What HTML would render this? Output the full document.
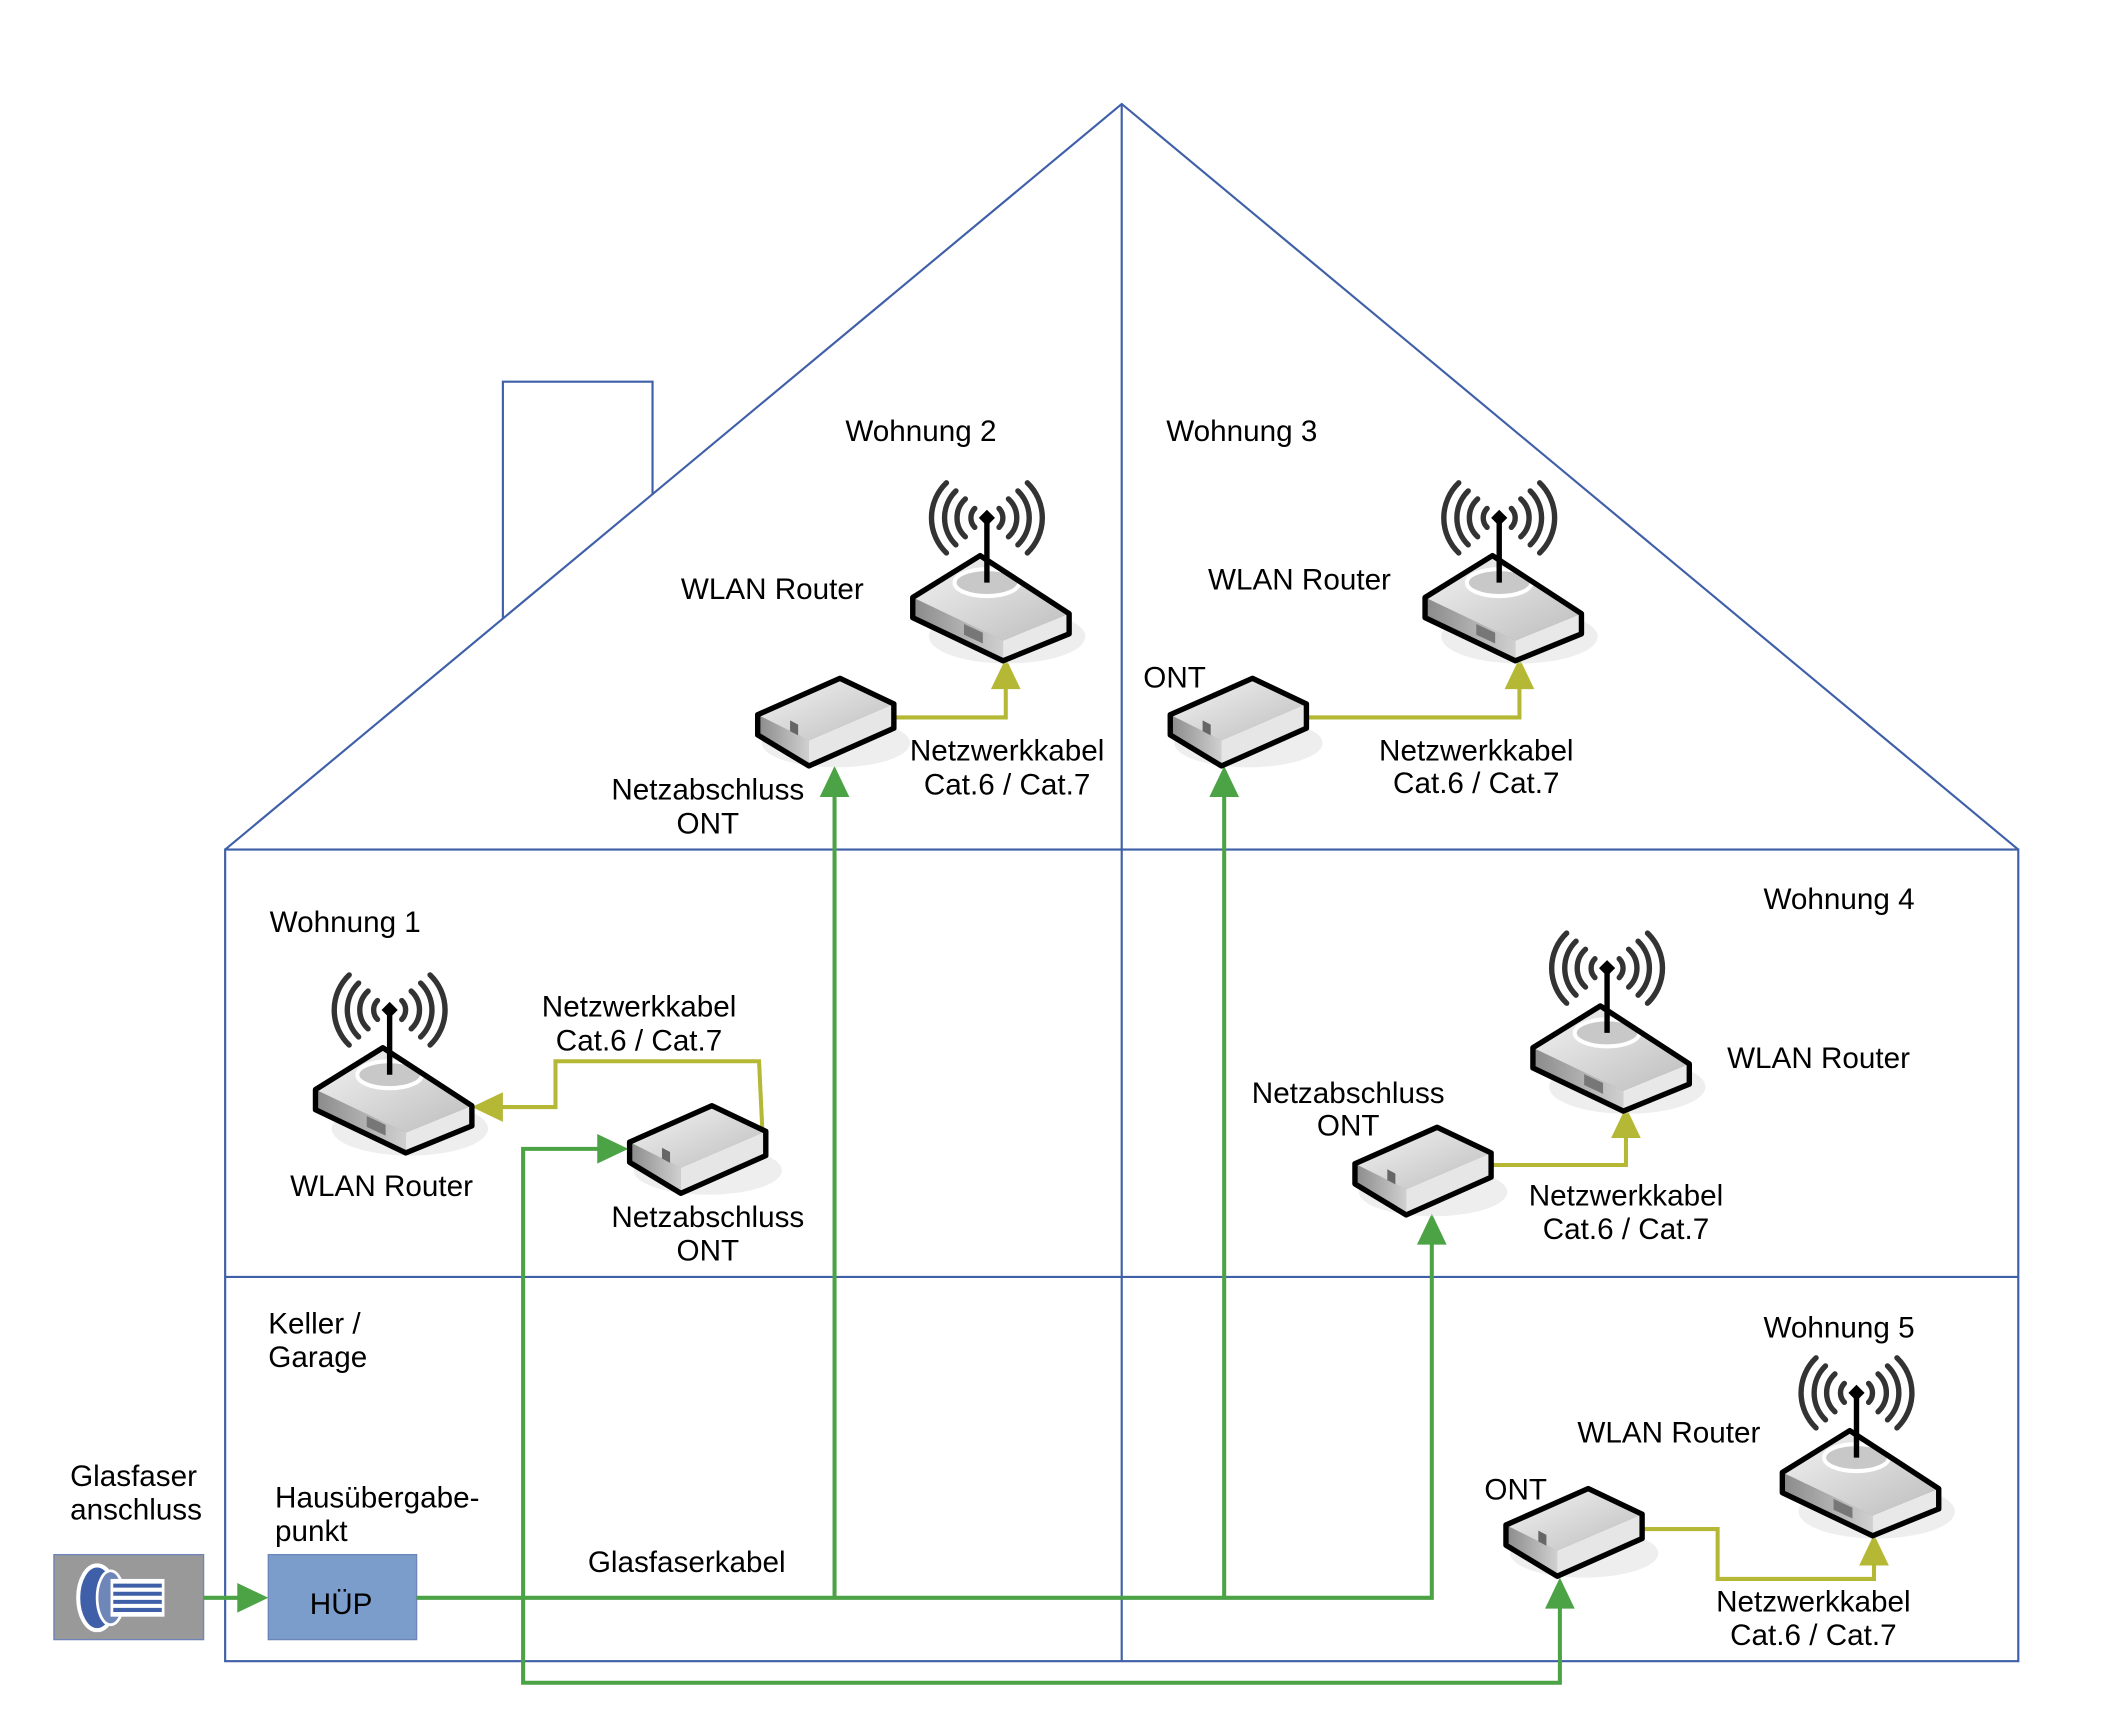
<!DOCTYPE html>
<html><head><meta charset="utf-8"><style>html,body{margin:0;padding:0;background:#fff}svg{display:block}</style></head><body>
<svg width="2114" height="1722" viewBox="0 0 1568 1277" xmlns="http://www.w3.org/2000/svg" font-family="Liberation Sans, Arial, sans-serif" font-size="22" fill="#000">
<defs>
<linearGradient id="gt" x1="0" y1="0" x2="1" y2="1"><stop offset="0" stop-color="#f4f4f4"/><stop offset="1" stop-color="#bdbdbd"/></linearGradient>
<linearGradient id="gs" x1="0" y1="0" x2="1" y2="0"><stop offset="0" stop-color="#8a8a8a"/><stop offset="1" stop-color="#d0d0d0"/></linearGradient>
<g id="ont">
<ellipse cx="8" cy="16" rx="55" ry="18" fill="#ddd" opacity="0.5"/>
<polygon points="-50,-5 11,-32 51,-13 51,5 -12,33 -50,10" fill="#9a9a9a"/>
<polygon points="-50,-5 -12,14 -12,33 -50,10" fill="url(#gs)"/>
<polygon points="-12,14 51,-13 51,5 -12,33" fill="#e6e6e6"/>
<polygon points="-50,-5 11,-32 51,-13 -12,14" fill="url(#gt)"/>
<polygon points="-50,-5 11,-32 51,-13 51,5 -12,33 -50,10" fill="none" stroke="#000" stroke-width="4" stroke-linejoin="round"/>
<rect x="-26" y="13" width="6" height="8" fill="#666" transform="skewY(28)"/>
</g>
<g id="router">
<ellipse cx="12" cy="22" rx="58" ry="20" fill="#ddd" opacity="0.5"/>
<polygon points="-58,-7 -8,-38 58,5 58,20 9,40 -58,8" fill="#999"/>
<polygon points="-58,-7 9,25 9,40 -58,8" fill="url(#gs)"/>
<polygon points="9,25 58,5 58,20 9,40" fill="#e8e8e8"/>
<polygon points="-58,-7 -8,-38 58,5 9,25" fill="url(#gt)"/>
<ellipse cx="-3" cy="-18" rx="24" ry="10" fill="#c8c8c8" stroke="#fff" stroke-width="3"/>
<rect x="-20" y="22" width="14" height="8" fill="#777" transform="skewY(25)"/>
<polygon points="-58,-7 -8,-38 58,5 58,20 9,40 -58,8" fill="none" stroke="#000" stroke-width="4" stroke-linejoin="round"/>
<line x1="-3" y1="-18" x2="-3" y2="-66" stroke="#000" stroke-width="4"/>
<polygon points="-3,-72 3,-66 -3,-60 -9,-66" fill="#000"/>
<g fill="none" stroke="#333" stroke-width="4" stroke-linecap="round">
<path d="M-12,-73 A10,10 0 0 0 -12,-59 M6,-73 A10,10 0 0 1 6,-59"/>
<path d="M-19,-80 A19,19 0 0 0 -19,-52 M13,-80 A19,19 0 0 1 13,-52"/>
<path d="M-26,-86 A28,28 0 0 0 -26,-46 M20,-86 A28,28 0 0 1 20,-46"/>
<path d="M-33,-92 A36,36 0 0 0 -33,-40 M27,-92 A36,36 0 0 1 27,-40"/>
</g>
</g>
</defs>
<g fill="none" stroke="#3f60a8" stroke-width="1.6">
<polyline points="167,630 832,77 1497,630"/>
<rect x="167" y="630" width="1330" height="602"/>
<line x1="167" y1="947" x2="1497" y2="947"/>
<line x1="832" y1="77" x2="832" y2="1232"/>
<polyline points="373,459 373,283 484,283 484,367"/>
</g>
<rect x="40" y="1153" width="111" height="63" fill="#999" stroke="#6d85b8" stroke-width="1"/>
<g transform="translate(88,1185)">
<ellipse cx="-16" cy="0" rx="14" ry="24" fill="#3f60a8" stroke="#fff" stroke-width="3"/>
<ellipse cx="-6" cy="0" rx="10" ry="20" fill="#6f86b8" stroke="#fff" stroke-width="2"/>
<rect x="-6" y="-14" width="40" height="28" fill="#fff"/>
<g stroke="#3f60a8" stroke-width="3"><line x1="-4" y1="-9" x2="32" y2="-9"/><line x1="-4" y1="-3" x2="32" y2="-3"/><line x1="-4" y1="3" x2="32" y2="3"/><line x1="-4" y1="9" x2="32" y2="9"/></g>
</g>
<rect x="199" y="1153" width="110" height="63" fill="#7b9dcb" stroke="#6d85b8" stroke-width="1"/>
<text x="253" y="1197" text-anchor="middle">HÜP</text>
<g fill="none" stroke="#4ca345" stroke-width="3">
<line x1="151" y1="1185" x2="178" y2="1185"/>
<polyline points="309,1185 1062,1185 1062,920"/>
<line x1="619" y1="1185" x2="619" y2="588"/>
<line x1="908" y1="1185" x2="908" y2="588"/>
<polyline points="446,852 388,852 388,1248 1157,1248 1157,1190"/>
</g>
<g fill="#4ca345">
<polygon points="199,1185 176,1174 176,1196"/>
<polygon points="619,568 608,591 630,591"/>
<polygon points="908,568 897,591 919,591"/>
<polygon points="1062,900 1051,923 1073,923"/>
<polygon points="1157,1170 1146,1193 1168,1193"/>
<polygon points="466,852 443,841 443,863"/>
</g>
<g fill="none" stroke="#b5b834" stroke-width="3">
<polyline points="663,532 746,532 746,508"/>
<polyline points="968,532 1127,532 1127,508"/>
<polyline points="566,850 563,787 412,787 412,821 370,821"/>
<polyline points="1105,864 1206,864 1206,841"/>
<polyline points="1217,1134 1274,1134 1274,1171 1390,1171 1390,1158"/>
</g>
<g fill="#b5b834">
<polygon points="746,488 735,511 757,511"/>
<polygon points="1127,488 1116,511 1138,511"/>
<polygon points="350,821 373,810 373,832"/>
<polygon points="1206,821 1195,844 1217,844"/>
<polygon points="1390,1138 1379,1161 1401,1161"/>
</g>
<use href="#ont" x="612" y="535"/>
<use href="#ont" x="918" y="535"/>
<use href="#ont" x="517" y="852"/>
<use href="#ont" x="1055" y="868"/>
<use href="#ont" x="1167" y="1136"/>
<use href="#router" x="735" y="450"/>
<use href="#router" x="1115" y="450"/>
<use href="#router" x="292" y="815"/>
<use href="#router" x="1195" y="784"/>
<use href="#router" x="1380" y="1099"/>
<text x="627" y="327">Wohnung 2</text>
<text x="865" y="327">Wohnung 3</text>
<text x="505" y="444">WLAN Router</text>
<text x="896" y="437">WLAN Router</text>
<text x="848" y="510">ONT</text>
<g text-anchor="middle">
<text x="525" y="593">Netzabschluss</text><text x="525" y="618">ONT</text>
<text x="747" y="564">Netzwerkkabel</text><text x="747" y="589">Cat.6 / Cat.7</text>
<text x="1095" y="564">Netzwerkkabel</text><text x="1095" y="588">Cat.6 / Cat.7</text>
<text x="474" y="754">Netzwerkkabel</text><text x="474" y="779">Cat.6 / Cat.7</text>
<text x="283" y="887">WLAN Router</text>
<text x="525" y="910">Netzabschluss</text><text x="525" y="935">ONT</text>
<text x="1000" y="818">Netzabschluss</text><text x="1000" y="842">ONT</text>
<text x="1206" y="894">Netzwerkkabel</text><text x="1206" y="919">Cat.6 / Cat.7</text>
<text x="1345" y="1195">Netzwerkkabel</text><text x="1345" y="1220">Cat.6 / Cat.7</text>
</g>
<text x="200" y="691">Wohnung 1</text>
<text x="1308" y="674">Wohnung 4</text>
<text x="1281" y="792">WLAN Router</text>
<text x="199" y="989">Keller /</text><text x="199" y="1014">Garage</text>
<text x="52" y="1102">Glasfaser</text><text x="52" y="1127">anschluss</text>
<text x="204" y="1118">Hausübergabe-</text><text x="204" y="1143">punkt</text>
<text x="436" y="1166">Glasfaserkabel</text>
<text x="1308" y="992">Wohnung 5</text>
<text x="1170" y="1070">WLAN Router</text>
<text x="1101" y="1112">ONT</text>
</svg>
</body></html>
